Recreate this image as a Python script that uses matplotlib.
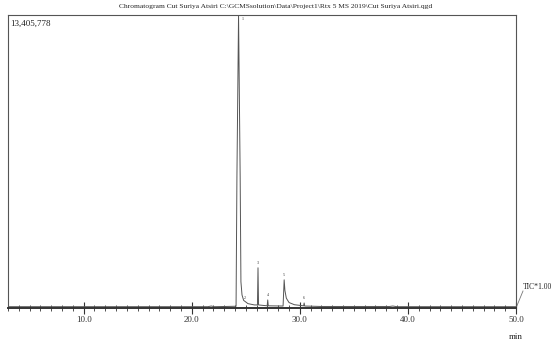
import matplotlib.pyplot as plt
from matplotlib.ticker import MultipleLocator

# chromatogram trace (time in min, intensity in counts)
times = [3.0, 10.0, 21.5, 21.8, 22.1, 24.10, 24.18, 24.33, 24.48, 24.55, 24.65,
         24.8, 25.2, 25.8, 26.08, 26.13, 26.18, 26.98, 27.03, 27.08, 28.45,
         28.55, 28.62, 28.75, 29.0, 29.5, 30.35, 30.40, 30.45, 32.0, 38.3,
         38.6, 39.0, 50.0]
tic = [0.06, 0.06, 0.06, 0.09, 0.06, 0.08, 6.0, 13.41, 6.0, 1.2, 0.6,
       0.35, 0.2, 0.14, 0.14, 1.84, 0.14, 0.10, 0.37, 0.10, 0.09,
       1.29, 0.80, 0.45, 0.25, 0.15, 0.10, 0.23, 0.09, 0.07, 0.07,
       0.09, 0.06, 0.06]
tic = [v * 1e6 for v in tic]

peak_rt = [24.33, 24.9, 26.13, 27.03, 28.55, 30.40]
peak_h = [13.41e6, 0.25e6, 1.84e6, 0.37e6, 1.29e6, 0.23e6]
peak_lbl = ['1', '2', '3', '4', '5', '6']

plt.rcParams['font.family'] = ['Liberation Serif', 'DejaVu Serif']

fig = plt.figure(figsize=(5.52, 3.43), dpi=100)
ax = fig.add_axes([8 / 552, 1 - 308 / 343, 508 / 552, 293 / 343])

ax.plot(times, tic, color='#555555', lw=0.7)
for rt, h, lb in zip(peak_rt, peak_h, peak_lbl):
    if h >= 13e6:
        ax.text(rt + 0.25, h - 0.1e6, lb, fontsize=3, ha='left', va='top', color='#333333')
    else:
        ax.text(rt, h + 0.12e6, lb, fontsize=3, ha='center', va='bottom', color='#333333')

ax.set_xlim(3.0, 50.0)
ax.set_ylim(0, 13.41e6)
ax.xaxis.set_major_locator(MultipleLocator(10))
ax.xaxis.set_minor_locator(MultipleLocator(1))
ax.xaxis.set_major_formatter(lambda v, p: f'{v:.1f}')
ax.tick_params(axis='x', which='major', direction='inout', length=8, width=0.8,
               labelsize=6.5, pad=2, colors='#333333')
ax.tick_params(axis='x', which='minor', direction='inout', length=4, width=0.6,
               colors='#333333')
ax.set_yticks([])
for s in ax.spines.values():
    s.set_color('#555555')
    s.set_linewidth(0.8)
ax.spines['bottom'].set_linewidth(1.4)
ax.spines['bottom'].set_color('#333333')

fig.text(0.5, 0.988, r'Chromatogram Cut Suriya Atsiri C:\GCMSsolution\Data\Project1\Rtx 5 MS 2019\Cut Suriya Atsiri.qgd',
         ha='center', va='top', fontsize=5.4, color='#222222')
ax.text(0.004, 0.985, '13,405,778', transform=ax.transAxes, ha='left', va='top',
        fontsize=6.5, color='#222222')
fig.text(523 / 552, 1 - 287 / 343, 'TIC*1.00', ha='left', va='center',
         fontsize=5.5, color='#222222')
ax.plot([516 / 552, 523 / 552], [1 - 308 / 343, 1 - 291 / 343], transform=fig.transFigure,
        color='#777777', lw=0.6, clip_on=False)
fig.text(516 / 552, 1 - 337 / 343, 'min', ha='center', va='center', fontsize=6.5,
         color='#222222')

fig.savefig('out.png', dpi=100)
